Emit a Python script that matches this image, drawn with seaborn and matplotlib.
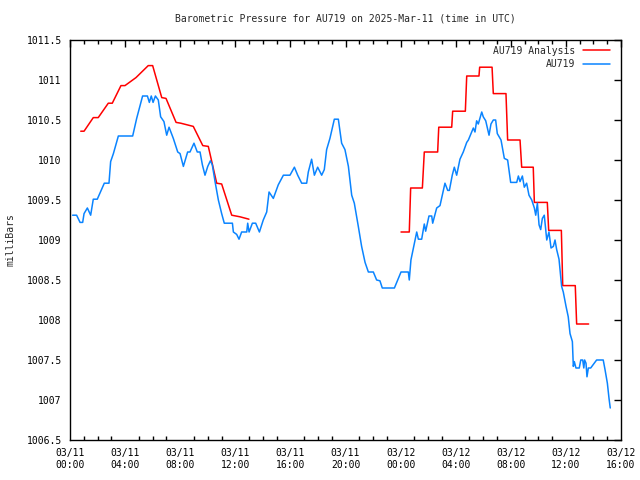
import numpy as np
import pandas as pd
import matplotlib
matplotlib.use("Agg")
import matplotlib.pyplot as plt
from matplotlib.ticker import MultipleLocator
import seaborn as sns

# hours since 03/11 00:00 UTC and pressure (mb)
obs_hours = [0.19, 0.48, 0.73, 0.92, 1.02, 1.26, 1.50, 1.69, 1.98, 2.49, 2.83, 2.95, 3.15, 3.51,
             4.55, 4.84, 5.27, 5.62, 5.76, 5.90, 6.03, 6.20, 6.41, 6.58, 6.82, 7.02, 7.19, 7.50,
             7.82, 7.99, 8.23, 8.54, 8.71, 9.00, 9.24, 9.44, 9.61, 9.80, 10.00, 10.19, 10.33,
             10.53, 10.77, 11.01, 11.20, 11.79, 11.86, 12.10, 12.27, 12.46, 12.83, 12.90, 13.00,
             13.24, 13.48, 13.75, 14.03, 14.28, 14.45, 14.76, 15.12, 15.49, 15.97, 16.29, 16.53,
             16.82, 17.18, 17.30, 17.54, 17.74, 17.98, 18.27, 18.46, 18.63, 18.87, 19.19, 19.48,
             19.72, 19.96, 20.21, 20.45, 20.64, 20.93, 21.17, 21.42, 21.66, 22.02, 22.26, 22.50,
             22.67, 23.55, 24.03, 24.56, 24.63, 24.75, 25.00, 25.17, 25.29, 25.53, 25.72, 25.82,
             26.06, 26.26, 26.33, 26.62, 26.86, 27.03, 27.22, 27.42, 27.54, 27.75, 27.90, 28.07,
             28.31, 28.55, 28.80, 28.92, 29.11, 29.28, 29.40, 29.52, 29.64, 29.89, 30.00, 30.18,
             30.42, 30.56, 30.73, 30.90, 31.02, 31.29, 31.53, 31.77, 31.89, 31.99, 32.43, 32.55,
             32.67, 32.84, 32.98, 33.15, 33.32, 33.52, 33.71, 33.81, 33.93, 34.05, 34.17, 34.29,
             34.43, 34.61, 34.77, 34.92, 35.09, 35.21, 35.33, 35.50, 35.62, 35.69, 35.81, 36.01,
             36.17, 36.30, 36.47, 36.54, 36.61, 36.73, 36.97, 37.08, 37.22, 37.30, 37.36, 37.46,
             37.53, 37.63, 37.80, 38.23, 38.71, 38.84, 39.01, 39.13, 39.22]
obs_mb = [1009.31, 1009.31, 1009.22, 1009.22, 1009.33, 1009.40, 1009.31, 1009.51, 1009.51,
          1009.71, 1009.71, 1009.98, 1010.08, 1010.30, 1010.30, 1010.52, 1010.80, 1010.80,
          1010.72, 1010.80, 1010.72, 1010.80, 1010.75, 1010.54, 1010.48, 1010.31, 1010.41,
          1010.27, 1010.10, 1010.08, 1009.92, 1010.10, 1010.10, 1010.21, 1010.10, 1010.10,
          1009.94, 1009.81, 1009.92, 1009.99, 1009.94, 1009.73, 1009.50, 1009.33, 1009.21,
          1009.21, 1009.10, 1009.07, 1009.01, 1009.10, 1009.10, 1009.21, 1009.10, 1009.21,
          1009.21, 1009.10, 1009.25, 1009.35, 1009.60, 1009.52, 1009.69, 1009.81, 1009.81,
          1009.91, 1009.81, 1009.71, 1009.71, 1009.85, 1010.01, 1009.81, 1009.91, 1009.81,
          1009.88, 1010.13, 1010.27, 1010.51, 1010.51, 1010.21, 1010.13, 1009.92, 1009.56,
          1009.46, 1009.17, 1008.92, 1008.72, 1008.60, 1008.60, 1008.50, 1008.49, 1008.40,
          1008.40, 1008.60, 1008.60, 1008.50, 1008.75, 1008.96, 1009.10, 1009.01, 1009.01,
          1009.20, 1009.11, 1009.30, 1009.30, 1009.21, 1009.40, 1009.43, 1009.56, 1009.71,
          1009.62, 1009.62, 1009.81, 1009.91, 1009.81, 1010.01, 1010.10, 1010.22, 1010.25,
          1010.33, 1010.40, 1010.35, 1010.49, 1010.45, 1010.60, 1010.54, 1010.49, 1010.31,
          1010.45, 1010.50, 1010.50, 1010.33, 1010.25, 1010.02, 1010.00, 1009.85, 1009.72,
          1009.72, 1009.80, 1009.73, 1009.80, 1009.66, 1009.71, 1009.56, 1009.50, 1009.40,
          1009.31, 1009.46, 1009.19, 1009.13, 1009.27, 1009.31, 1009.00, 1009.10, 1008.90,
          1008.92, 1009.00, 1008.88, 1008.76, 1008.54, 1008.42, 1008.35, 1008.17, 1008.04,
          1007.83, 1007.73, 1007.42, 1007.48, 1007.40, 1007.40, 1007.50, 1007.50, 1007.40,
          1007.50, 1007.46, 1007.29, 1007.40, 1007.40, 1007.50, 1007.50, 1007.38, 1007.21,
          1007.02, 1006.90]

# analysis series, two separate runs
ana1_hours = [0.78, 1.02, 1.69, 2.05, 2.78, 3.07, 3.70, 3.99, 4.79, 5.68, 6.00, 6.66, 6.97,
              7.70, 8.04, 8.95, 9.64, 10.04, 10.65, 11.01, 11.74, 12.34, 12.99]
ana1_mb = [1010.36, 1010.36, 1010.53, 1010.53, 1010.71, 1010.71, 1010.93, 1010.93, 1011.03,
           1011.18, 1011.18, 1010.78, 1010.77, 1010.47, 1010.46, 1010.42, 1010.18, 1010.17,
           1009.71, 1009.70, 1009.31, 1009.29, 1009.26]
ana2_hours = [24.03, 24.63, 24.73, 25.58, 25.72, 26.69, 26.77, 27.71, 27.78, 28.70, 28.80,
              29.69, 29.74, 30.64, 30.73, 31.65, 31.77, 32.67, 32.79, 33.63, 33.71, 34.65,
              34.75, 35.67, 35.77, 36.68, 36.78, 37.65]
ana2_mb = [1009.10, 1009.10, 1009.65, 1009.65, 1010.10, 1010.10, 1010.41, 1010.41, 1010.61,
           1010.61, 1011.05, 1011.05, 1011.16, 1011.16, 1010.83, 1010.83, 1010.25, 1010.25,
           1009.91, 1009.91, 1009.47, 1009.47, 1009.12, 1009.12, 1008.43, 1008.43, 1007.95,
           1007.95]

tick_hours = [0, 4, 8, 12, 16, 20, 24, 28, 32, 36, 40]
tick_labels = ["03/11\n00:00", "03/11\n04:00", "03/11\n08:00", "03/11\n12:00", "03/11\n16:00",
               "03/11\n20:00", "03/12\n00:00", "03/12\n04:00", "03/12\n08:00", "03/12\n12:00",
               "03/12\n16:00"]

sns.set_theme(style="white")
plt.rcParams["font.family"] = ["DejaVu Sans Mono"]
plt.rcParams["font.size"] = 7

obs = pd.DataFrame({"hour": obs_hours, "mb": obs_mb})
ana1 = pd.DataFrame({"hour": ana1_hours, "mb": ana1_mb})
ana2 = pd.DataFrame({"hour": ana2_hours, "mb": ana2_mb})

fig = plt.figure(figsize=(6.4, 4.8), dpi=100)
ax = fig.add_axes([70 / 640, 40 / 480, 551 / 640, 400 / 480])

red = "#ff0000"
blue = "#0a84ff"
sns.lineplot(data=ana1, x="hour", y="mb", ax=ax, color=red, lw=1.1, label="AU719 Analysis")
sns.lineplot(data=ana2, x="hour", y="mb", ax=ax, color=red, lw=1.1, label="_nolegend_")
sns.lineplot(data=obs, x="hour", y="mb", ax=ax, color=blue, lw=1.1, label="AU719")

ax.set_xlim(0, 40)
ax.set_ylim(1006.5, 1011.5)
ax.set_xticks(tick_hours)
ax.set_xticklabels(tick_labels)
ax.xaxis.set_minor_locator(MultipleLocator(1))
ax.yaxis.set_major_locator(MultipleLocator(0.5))
ax.yaxis.set_major_formatter(plt.FuncFormatter(lambda v, p: f"{v:g}"))
ax.tick_params(which="major", direction="in", length=5, width=1, colors="black",
               top=True, right=True, labelsize=7, pad=6)
ax.tick_params(which="minor", direction="in", length=3, width=1, colors="black",
               top=True, bottom=True)
for s in ax.spines.values():
    s.set_color("black")
    s.set_linewidth(1)

ax.set_xlabel("")
ax.set_ylabel("milliBars", fontsize=7, labelpad=8)
ax.set_title("Barometric Pressure for AU719 on 2025-Mar-11 (time in UTC)", fontsize=7, pad=13)
ax.grid(False)

ax.legend(loc="upper right", bbox_to_anchor=(0.993, 1.003), frameon=False, markerfirst=False,
          fontsize=7, handlelength=2.8, handletextpad=0.8, labelspacing=0.35,
          borderaxespad=0.3, borderpad=0.4)

fig.savefig("out.png", dpi=100)
